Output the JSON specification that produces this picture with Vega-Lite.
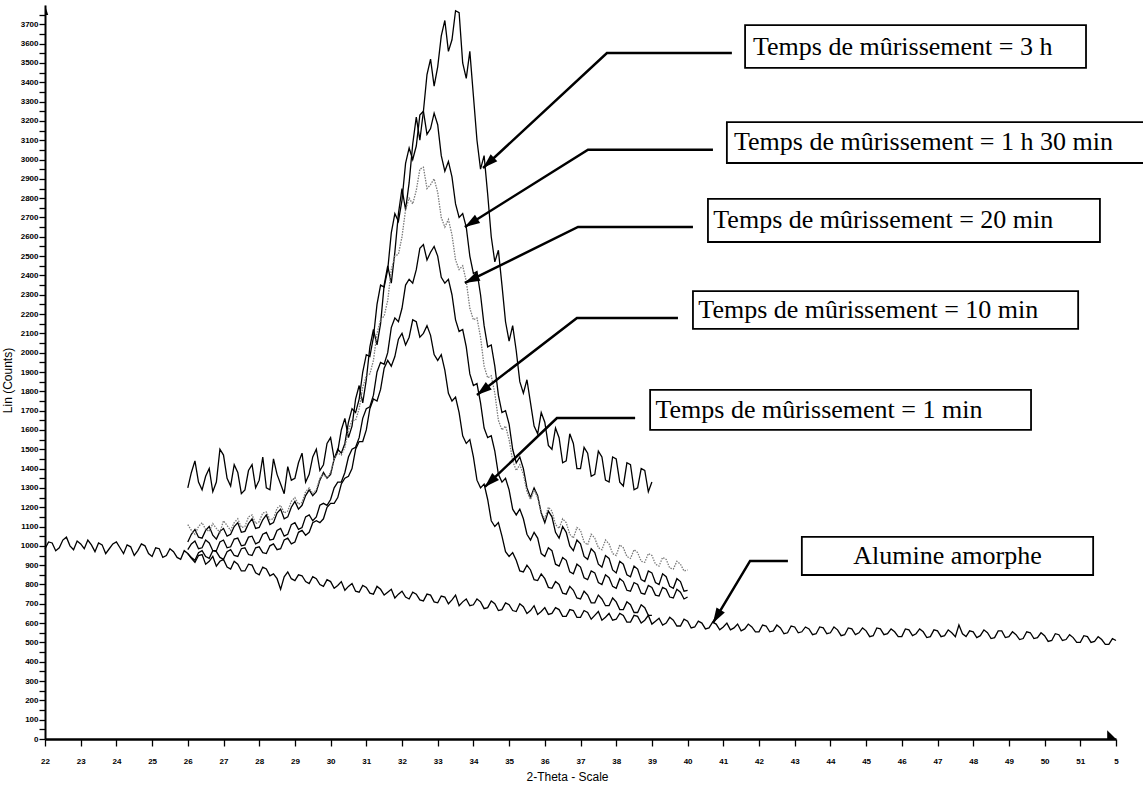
{
"$schema": "https://vega.github.io/schema/vega-lite/v6.json",
"width": 1071, "height": 734,
"autosize": {"type": "none"},
"padding": {"left": 45, "top": 5, "right": 27, "bottom": 52},
"background": "white",
"config": {"view": {"stroke": null}, "axis": {"grid": false}},
"datasets": {
"curves": [
{"s":"am","x":22.0,"y":985},{"s":"am","x":22.1,"y":1020},{"s":"am","x":22.2,"y":1015},{"s":"am","x":22.3,"y":975},{"s":"am","x":22.4,"y":990},{"s":"am","x":22.5,"y":1030},{"s":"am","x":22.6,"y":1045},{"s":"am","x":22.7,"y":1000},{"s":"am","x":22.8,"y":980},{"s":"am","x":22.9,"y":1025},
{"s":"am","x":23.0,"y":1010},{"s":"am","x":23.1,"y":985},{"s":"am","x":23.2,"y":1030},{"s":"am","x":23.3,"y":1005},{"s":"am","x":23.4,"y":970},{"s":"am","x":23.5,"y":1015},{"s":"am","x":23.6,"y":1005},{"s":"am","x":23.7,"y":960},{"s":"am","x":23.8,"y":985},{"s":"am","x":23.9,"y":1010},
{"s":"am","x":24.0,"y":1020},{"s":"am","x":24.1,"y":990},{"s":"am","x":24.2,"y":960},{"s":"am","x":24.3,"y":1005},{"s":"am","x":24.4,"y":995},{"s":"am","x":24.5,"y":950},{"s":"am","x":24.6,"y":975},{"s":"am","x":24.7,"y":1010},{"s":"am","x":24.8,"y":1000},{"s":"am","x":24.9,"y":960},
{"s":"am","x":25.0,"y":945},{"s":"am","x":25.1,"y":990},{"s":"am","x":25.2,"y":985},{"s":"am","x":25.3,"y":940},{"s":"am","x":25.4,"y":950},{"s":"am","x":25.5,"y":985},{"s":"am","x":25.6,"y":970},{"s":"am","x":25.7,"y":940},{"s":"am","x":25.8,"y":930},{"s":"am","x":25.9,"y":975},
{"s":"am","x":26.0,"y":960},{"s":"am","x":26.1,"y":935},{"s":"am","x":26.2,"y":915},{"s":"am","x":26.3,"y":950},{"s":"am","x":26.4,"y":955},{"s":"am","x":26.5,"y":905},{"s":"am","x":26.6,"y":920},{"s":"am","x":26.7,"y":945},{"s":"am","x":26.8,"y":895},{"s":"am","x":26.9,"y":920},
{"s":"am","x":27.0,"y":930},{"s":"am","x":27.1,"y":890},{"s":"am","x":27.2,"y":880},{"s":"am","x":27.3,"y":920},{"s":"am","x":27.4,"y":905},{"s":"am","x":27.5,"y":870},{"s":"am","x":27.6,"y":870},{"s":"am","x":27.7,"y":905},{"s":"am","x":27.8,"y":900},{"s":"am","x":27.9,"y":860},
{"s":"am","x":28.0,"y":850},{"s":"am","x":28.1,"y":890},{"s":"am","x":28.2,"y":880},{"s":"am","x":28.3,"y":845},{"s":"am","x":28.4,"y":855},{"s":"am","x":28.5,"y":830},{"s":"am","x":28.6,"y":775},{"s":"am","x":28.7,"y":840},{"s":"am","x":28.8,"y":865},{"s":"am","x":28.9,"y":830},
{"s":"am","x":29.0,"y":820},{"s":"am","x":29.1,"y":850},{"s":"am","x":29.2,"y":845},{"s":"am","x":29.3,"y":815},{"s":"am","x":29.4,"y":805},{"s":"am","x":29.5,"y":840},{"s":"am","x":29.6,"y":830},{"s":"am","x":29.7,"y":800},{"s":"am","x":29.8,"y":790},{"s":"am","x":29.9,"y":825},
{"s":"am","x":30.0,"y":815},{"s":"am","x":30.1,"y":780},{"s":"am","x":30.2,"y":795},{"s":"am","x":30.3,"y":815},{"s":"am","x":30.4,"y":770},{"s":"am","x":30.5,"y":790},{"s":"am","x":30.6,"y":805},{"s":"am","x":30.7,"y":765},{"s":"am","x":30.8,"y":760},{"s":"am","x":30.9,"y":795},
{"s":"am","x":31.0,"y":785},{"s":"am","x":31.1,"y":755},{"s":"am","x":31.2,"y":750},{"s":"am","x":31.3,"y":790},{"s":"am","x":31.4,"y":775},{"s":"am","x":31.5,"y":745},{"s":"am","x":31.6,"y":760},{"s":"am","x":31.7,"y":775},{"s":"am","x":31.8,"y":730},{"s":"am","x":31.9,"y":750},
{"s":"am","x":32.0,"y":765},{"s":"am","x":32.1,"y":735},{"s":"am","x":32.2,"y":725},{"s":"am","x":32.3,"y":760},{"s":"am","x":32.4,"y":750},{"s":"am","x":32.5,"y":720},{"s":"am","x":32.6,"y":715},{"s":"am","x":32.7,"y":750},{"s":"am","x":32.8,"y":745},{"s":"am","x":32.9,"y":710},
{"s":"am","x":33.0,"y":705},{"s":"am","x":33.1,"y":740},{"s":"am","x":33.2,"y":735},{"s":"am","x":33.3,"y":700},{"s":"am","x":33.4,"y":720},{"s":"am","x":33.5,"y":745},{"s":"am","x":33.6,"y":690},{"s":"am","x":33.7,"y":710},{"s":"am","x":33.8,"y":725},{"s":"am","x":33.9,"y":690},
{"s":"am","x":34.0,"y":695},{"s":"am","x":34.1,"y":725},{"s":"am","x":34.2,"y":710},{"s":"am","x":34.3,"y":675},{"s":"am","x":34.4,"y":680},{"s":"am","x":34.5,"y":715},{"s":"am","x":34.6,"y":700},{"s":"am","x":34.7,"y":665},{"s":"am","x":34.8,"y":670},{"s":"am","x":34.9,"y":705},
{"s":"am","x":35.0,"y":695},{"s":"am","x":35.1,"y":665},{"s":"am","x":35.2,"y":660},{"s":"am","x":35.3,"y":700},{"s":"am","x":35.4,"y":685},{"s":"am","x":35.5,"y":650},{"s":"am","x":35.6,"y":665},{"s":"am","x":35.7,"y":690},{"s":"am","x":35.8,"y":645},{"s":"am","x":35.9,"y":660},
{"s":"am","x":36.0,"y":680},{"s":"am","x":36.1,"y":645},{"s":"am","x":36.2,"y":650},{"s":"am","x":36.3,"y":680},{"s":"am","x":36.4,"y":670},{"s":"am","x":36.5,"y":635},{"s":"am","x":36.6,"y":635},{"s":"am","x":36.7,"y":670},{"s":"am","x":36.8,"y":665},{"s":"am","x":36.9,"y":630},
{"s":"am","x":37.0,"y":630},{"s":"am","x":37.1,"y":665},{"s":"am","x":37.2,"y":655},{"s":"am","x":37.3,"y":620},{"s":"am","x":37.4,"y":640},{"s":"am","x":37.5,"y":660},{"s":"am","x":37.6,"y":615},{"s":"am","x":37.7,"y":630},{"s":"am","x":37.8,"y":650},{"s":"am","x":37.9,"y":615},
{"s":"am","x":38.0,"y":620},{"s":"am","x":38.1,"y":650},{"s":"am","x":38.2,"y":640},{"s":"am","x":38.3,"y":605},{"s":"am","x":38.4,"y":605},{"s":"am","x":38.5,"y":640},{"s":"am","x":38.6,"y":635},{"s":"am","x":38.7,"y":600},{"s":"am","x":38.8,"y":615},{"s":"am","x":38.9,"y":640},
{"s":"am","x":39.0,"y":595},{"s":"am","x":39.1,"y":610},{"s":"am","x":39.2,"y":625},{"s":"am","x":39.3,"y":590},{"s":"am","x":39.4,"y":600},{"s":"am","x":39.5,"y":630},{"s":"am","x":39.6,"y":615},{"s":"am","x":39.7,"y":585},{"s":"am","x":39.8,"y":585},{"s":"am","x":39.9,"y":620},
{"s":"am","x":40.0,"y":610},{"s":"am","x":40.1,"y":575},{"s":"am","x":40.2,"y":580},{"s":"am","x":40.3,"y":610},{"s":"am","x":40.4,"y":600},{"s":"am","x":40.5,"y":570},{"s":"am","x":40.6,"y":575},{"s":"am","x":40.7,"y":605},{"s":"am","x":40.8,"y":595},{"s":"am","x":40.9,"y":565},
{"s":"am","x":41.0,"y":580},{"s":"am","x":41.1,"y":600},{"s":"am","x":41.2,"y":565},{"s":"am","x":41.3,"y":575},{"s":"am","x":41.4,"y":595},{"s":"am","x":41.5,"y":560},{"s":"am","x":41.6,"y":570},{"s":"am","x":41.7,"y":595},{"s":"am","x":41.8,"y":580},{"s":"am","x":41.9,"y":555},
{"s":"am","x":42.0,"y":555},{"s":"am","x":42.1,"y":590},{"s":"am","x":42.2,"y":585},{"s":"am","x":42.3,"y":555},{"s":"am","x":42.4,"y":560},{"s":"am","x":42.5,"y":590},{"s":"am","x":42.6,"y":575},{"s":"am","x":42.7,"y":545},{"s":"am","x":42.8,"y":550},{"s":"am","x":42.9,"y":585},
{"s":"am","x":43.0,"y":580},{"s":"am","x":43.1,"y":550},{"s":"am","x":43.2,"y":555},{"s":"am","x":43.3,"y":580},{"s":"am","x":43.4,"y":570},{"s":"am","x":43.5,"y":540},{"s":"am","x":43.6,"y":545},{"s":"am","x":43.7,"y":580},{"s":"am","x":43.8,"y":575},{"s":"am","x":43.9,"y":545},
{"s":"am","x":44.0,"y":550},{"s":"am","x":44.1,"y":580},{"s":"am","x":44.2,"y":565},{"s":"am","x":44.3,"y":535},{"s":"am","x":44.4,"y":540},{"s":"am","x":44.5,"y":575},{"s":"am","x":44.6,"y":570},{"s":"am","x":44.7,"y":540},{"s":"am","x":44.8,"y":550},{"s":"am","x":44.9,"y":575},
{"s":"am","x":45.0,"y":560},{"s":"am","x":45.1,"y":530},{"s":"am","x":45.2,"y":535},{"s":"am","x":45.3,"y":575},{"s":"am","x":45.4,"y":570},{"s":"am","x":45.5,"y":540},{"s":"am","x":45.6,"y":545},{"s":"am","x":45.7,"y":570},{"s":"am","x":45.8,"y":555},{"s":"am","x":45.9,"y":530},
{"s":"am","x":46.0,"y":530},{"s":"am","x":46.1,"y":570},{"s":"am","x":46.2,"y":565},{"s":"am","x":46.3,"y":535},{"s":"am","x":46.4,"y":545},{"s":"am","x":46.5,"y":570},{"s":"am","x":46.6,"y":555},{"s":"am","x":46.7,"y":525},{"s":"am","x":46.8,"y":530},{"s":"am","x":46.9,"y":565},
{"s":"am","x":47.0,"y":560},{"s":"am","x":47.1,"y":530},{"s":"am","x":47.2,"y":535},{"s":"am","x":47.3,"y":565},{"s":"am","x":47.4,"y":550},{"s":"am","x":47.5,"y":530},{"s":"am","x":47.6,"y":590},{"s":"am","x":47.7,"y":545},{"s":"am","x":47.8,"y":530},{"s":"am","x":47.9,"y":560},
{"s":"am","x":48.0,"y":555},{"s":"am","x":48.1,"y":525},{"s":"am","x":48.2,"y":535},{"s":"am","x":48.3,"y":565},{"s":"am","x":48.4,"y":550},{"s":"am","x":48.5,"y":520},{"s":"am","x":48.6,"y":525},{"s":"am","x":48.7,"y":560},{"s":"am","x":48.8,"y":560},{"s":"am","x":48.9,"y":525},
{"s":"am","x":49.0,"y":530},{"s":"am","x":49.1,"y":555},{"s":"am","x":49.2,"y":540},{"s":"am","x":49.3,"y":515},{"s":"am","x":49.4,"y":520},{"s":"am","x":49.5,"y":555},{"s":"am","x":49.6,"y":550},{"s":"am","x":49.7,"y":520},{"s":"am","x":49.8,"y":525},{"s":"am","x":49.9,"y":550},
{"s":"am","x":50.0,"y":535},{"s":"am","x":50.1,"y":505},{"s":"am","x":50.2,"y":510},{"s":"am","x":50.3,"y":545},{"s":"am","x":50.4,"y":540},{"s":"am","x":50.5,"y":510},{"s":"am","x":50.6,"y":515},{"s":"am","x":50.7,"y":540},{"s":"am","x":50.8,"y":525},{"s":"am","x":50.9,"y":500},
{"s":"am","x":51.0,"y":500},{"s":"am","x":51.1,"y":535},{"s":"am","x":51.2,"y":530},{"s":"am","x":51.3,"y":500},{"s":"am","x":51.4,"y":505},{"s":"am","x":51.5,"y":530},{"s":"am","x":51.6,"y":515},{"s":"am","x":51.7,"y":490},{"s":"am","x":51.8,"y":490},{"s":"am","x":51.9,"y":520},{"s":"am","x":52.0,"y":510},

{"s":"h3","x":26.0,"y":1300},{"s":"h3","x":26.1,"y":1380},{"s":"h3","x":26.2,"y":1440},{"s":"h3","x":26.3,"y":1330},{"s":"h3","x":26.4,"y":1290},{"s":"h3","x":26.5,"y":1360},{"s":"h3","x":26.6,"y":1400},{"s":"h3","x":26.7,"y":1280},{"s":"h3","x":26.8,"y":1330},{"s":"h3","x":26.9,"y":1500},
{"s":"h3","x":27.0,"y":1470},{"s":"h3","x":27.1,"y":1350},{"s":"h3","x":27.2,"y":1310},{"s":"h3","x":27.3,"y":1420},{"s":"h3","x":27.4,"y":1380},{"s":"h3","x":27.5,"y":1270},{"s":"h3","x":27.6,"y":1290},{"s":"h3","x":27.7,"y":1390},{"s":"h3","x":27.8,"y":1420},{"s":"h3","x":27.9,"y":1300},
{"s":"h3","x":28.0,"y":1340},{"s":"h3","x":28.1,"y":1460},{"s":"h3","x":28.2,"y":1300},{"s":"h3","x":28.3,"y":1290},{"s":"h3","x":28.4,"y":1450},{"s":"h3","x":28.5,"y":1370},{"s":"h3","x":28.6,"y":1320},{"s":"h3","x":28.7,"y":1270},{"s":"h3","x":28.8,"y":1410},{"s":"h3","x":28.9,"y":1340},
{"s":"h3","x":29.0,"y":1350},{"s":"h3","x":29.1,"y":1430},{"s":"h3","x":29.2,"y":1480},{"s":"h3","x":29.3,"y":1330},{"s":"h3","x":29.4,"y":1370},{"s":"h3","x":29.5,"y":1460},{"s":"h3","x":29.6,"y":1500},{"s":"h3","x":29.7,"y":1390},{"s":"h3","x":29.8,"y":1420},{"s":"h3","x":29.9,"y":1530},
{"s":"h3","x":30.0,"y":1560},{"s":"h3","x":30.1,"y":1450},{"s":"h3","x":30.2,"y":1490},{"s":"h3","x":30.3,"y":1600},{"s":"h3","x":30.4,"y":1660},{"s":"h3","x":30.5,"y":1560},{"s":"h3","x":30.6,"y":1620},{"s":"h3","x":30.7,"y":1760},{"s":"h3","x":30.8,"y":1830},{"s":"h3","x":30.9,"y":1740},
{"s":"h3","x":31.0,"y":1860},{"s":"h3","x":31.1,"y":2030},{"s":"h3","x":31.2,"y":2120},{"s":"h3","x":31.3,"y":2040},{"s":"h3","x":31.4,"y":2150},{"s":"h3","x":31.5,"y":2350},{"s":"h3","x":31.6,"y":2450},{"s":"h3","x":31.7,"y":2360},{"s":"h3","x":31.8,"y":2520},{"s":"h3","x":31.9,"y":2720},
{"s":"h3","x":32.0,"y":2850},{"s":"h3","x":32.1,"y":2740},{"s":"h3","x":32.2,"y":2880},{"s":"h3","x":32.3,"y":3080},{"s":"h3","x":32.4,"y":3220},{"s":"h3","x":32.5,"y":3100},{"s":"h3","x":32.6,"y":3250},{"s":"h3","x":32.7,"y":3440},{"s":"h3","x":32.8,"y":3520},{"s":"h3","x":32.9,"y":3380},
{"s":"h3","x":33.0,"y":3480},{"s":"h3","x":33.1,"y":3640},{"s":"h3","x":33.2,"y":3720},{"s":"h3","x":33.3,"y":3560},{"s":"h3","x":33.4,"y":3620},{"s":"h3","x":33.5,"y":3770},{"s":"h3","x":33.6,"y":3760},{"s":"h3","x":33.7,"y":3500},{"s":"h3","x":33.8,"y":3420},{"s":"h3","x":33.9,"y":3560},
{"s":"h3","x":34.0,"y":3330},{"s":"h3","x":34.1,"y":3100},{"s":"h3","x":34.2,"y":2950},{"s":"h3","x":34.3,"y":3020},{"s":"h3","x":34.4,"y":2820},{"s":"h3","x":34.5,"y":2600},{"s":"h3","x":34.6,"y":2470},{"s":"h3","x":34.7,"y":2530},{"s":"h3","x":34.8,"y":2350},{"s":"h3","x":34.9,"y":2160},
{"s":"h3","x":35.0,"y":2060},{"s":"h3","x":35.1,"y":2140},{"s":"h3","x":35.2,"y":2010},{"s":"h3","x":35.3,"y":1850},{"s":"h3","x":35.4,"y":1790},{"s":"h3","x":35.5,"y":1860},{"s":"h3","x":35.6,"y":1740},{"s":"h3","x":35.7,"y":1620},{"s":"h3","x":35.8,"y":1580},{"s":"h3","x":35.9,"y":1690},
{"s":"h3","x":36.0,"y":1640},{"s":"h3","x":36.1,"y":1520},{"s":"h3","x":36.2,"y":1500},{"s":"h3","x":36.3,"y":1610},{"s":"h3","x":36.4,"y":1560},{"s":"h3","x":36.5,"y":1430},{"s":"h3","x":36.6,"y":1440},{"s":"h3","x":36.7,"y":1580},{"s":"h3","x":36.8,"y":1530},{"s":"h3","x":36.9,"y":1400},
{"s":"h3","x":37.0,"y":1400},{"s":"h3","x":37.1,"y":1510},{"s":"h3","x":37.2,"y":1480},{"s":"h3","x":37.3,"y":1360},{"s":"h3","x":37.4,"y":1370},{"s":"h3","x":37.5,"y":1490},{"s":"h3","x":37.6,"y":1460},{"s":"h3","x":37.7,"y":1340},{"s":"h3","x":37.8,"y":1330},{"s":"h3","x":37.9,"y":1460},
{"s":"h3","x":38.0,"y":1450},{"s":"h3","x":38.1,"y":1330},{"s":"h3","x":38.2,"y":1310},{"s":"h3","x":38.3,"y":1430},{"s":"h3","x":38.4,"y":1420},{"s":"h3","x":38.5,"y":1290},{"s":"h3","x":38.6,"y":1300},{"s":"h3","x":38.7,"y":1400},{"s":"h3","x":38.8,"y":1390},{"s":"h3","x":38.9,"y":1280},{"s":"h3","x":39.0,"y":1330},

{"s":"h1","x":26.0,"y":1020},{"s":"h1","x":26.1,"y":1060},{"s":"h1","x":26.2,"y":1085},{"s":"h1","x":26.3,"y":1045},{"s":"h1","x":26.4,"y":1040},{"s":"h1","x":26.5,"y":1080},{"s":"h1","x":26.6,"y":1100},{"s":"h1","x":26.7,"y":1055},{"s":"h1","x":26.8,"y":1035},{"s":"h1","x":26.9,"y":1075},
{"s":"h1","x":27.0,"y":1090},{"s":"h1","x":27.1,"y":1050},{"s":"h1","x":27.2,"y":1060},{"s":"h1","x":27.3,"y":1100},{"s":"h1","x":27.4,"y":1120},{"s":"h1","x":27.5,"y":1070},{"s":"h1","x":27.6,"y":1075},{"s":"h1","x":27.7,"y":1115},{"s":"h1","x":27.8,"y":1140},{"s":"h1","x":27.9,"y":1090},
{"s":"h1","x":28.0,"y":1095},{"s":"h1","x":28.1,"y":1135},{"s":"h1","x":28.2,"y":1160},{"s":"h1","x":28.3,"y":1110},{"s":"h1","x":28.4,"y":1120},{"s":"h1","x":28.5,"y":1170},{"s":"h1","x":28.6,"y":1190},{"s":"h1","x":28.7,"y":1140},{"s":"h1","x":28.8,"y":1150},{"s":"h1","x":28.9,"y":1200},
{"s":"h1","x":29.0,"y":1230},{"s":"h1","x":29.1,"y":1190},{"s":"h1","x":29.2,"y":1210},{"s":"h1","x":29.3,"y":1260},{"s":"h1","x":29.4,"y":1290},{"s":"h1","x":29.5,"y":1260},{"s":"h1","x":29.6,"y":1280},{"s":"h1","x":29.7,"y":1340},{"s":"h1","x":29.8,"y":1380},{"s":"h1","x":29.9,"y":1350},
{"s":"h1","x":30.0,"y":1370},{"s":"h1","x":30.1,"y":1450},{"s":"h1","x":30.2,"y":1500},{"s":"h1","x":30.3,"y":1480},{"s":"h1","x":30.4,"y":1530},{"s":"h1","x":30.5,"y":1640},{"s":"h1","x":30.6,"y":1710},{"s":"h1","x":30.7,"y":1690},{"s":"h1","x":30.8,"y":1760},{"s":"h1","x":30.9,"y":1900},
{"s":"h1","x":31.0,"y":1990},{"s":"h1","x":31.1,"y":1980},{"s":"h1","x":31.2,"y":2080},{"s":"h1","x":31.3,"y":2250},{"s":"h1","x":31.4,"y":2350},{"s":"h1","x":31.5,"y":2340},{"s":"h1","x":31.6,"y":2430},{"s":"h1","x":31.7,"y":2620},{"s":"h1","x":31.8,"y":2720},{"s":"h1","x":31.9,"y":2680},
{"s":"h1","x":32.0,"y":2790},{"s":"h1","x":32.1,"y":2980},{"s":"h1","x":32.2,"y":3060},{"s":"h1","x":32.3,"y":3000},{"s":"h1","x":32.4,"y":3070},{"s":"h1","x":32.5,"y":3230},{"s":"h1","x":32.6,"y":3250},{"s":"h1","x":32.7,"y":3130},{"s":"h1","x":32.8,"y":3160},{"s":"h1","x":32.9,"y":3240},
{"s":"h1","x":33.0,"y":3180},{"s":"h1","x":33.1,"y":3020},{"s":"h1","x":33.2,"y":2940},{"s":"h1","x":33.3,"y":2990},{"s":"h1","x":33.4,"y":2910},{"s":"h1","x":33.5,"y":2770},{"s":"h1","x":33.6,"y":2700},{"s":"h1","x":33.7,"y":2720},{"s":"h1","x":33.8,"y":2650},{"s":"h1","x":33.9,"y":2500},
{"s":"h1","x":34.0,"y":2410},{"s":"h1","x":34.1,"y":2420},{"s":"h1","x":34.2,"y":2300},{"s":"h1","x":34.3,"y":2140},{"s":"h1","x":34.4,"y":2030},{"s":"h1","x":34.5,"y":2040},{"s":"h1","x":34.6,"y":1930},{"s":"h1","x":34.7,"y":1780},{"s":"h1","x":34.8,"y":1690},{"s":"h1","x":34.9,"y":1700},
{"s":"h1","x":35.0,"y":1630},{"s":"h1","x":35.1,"y":1500},{"s":"h1","x":35.2,"y":1430},{"s":"h1","x":35.3,"y":1460},{"s":"h1","x":35.4,"y":1400},{"s":"h1","x":35.5,"y":1300},{"s":"h1","x":35.6,"y":1250},{"s":"h1","x":35.7,"y":1300},{"s":"h1","x":35.8,"y":1260},{"s":"h1","x":35.9,"y":1170},
{"s":"h1","x":36.0,"y":1120},{"s":"h1","x":36.1,"y":1180},{"s":"h1","x":36.2,"y":1150},{"s":"h1","x":36.3,"y":1070},{"s":"h1","x":36.4,"y":1040},{"s":"h1","x":36.5,"y":1100},{"s":"h1","x":36.6,"y":1070},{"s":"h1","x":36.7,"y":1000},{"s":"h1","x":36.8,"y":975},{"s":"h1","x":36.9,"y":1030},
{"s":"h1","x":37.0,"y":1010},{"s":"h1","x":37.1,"y":945},{"s":"h1","x":37.2,"y":930},{"s":"h1","x":37.3,"y":985},{"s":"h1","x":37.4,"y":965},{"s":"h1","x":37.5,"y":905},{"s":"h1","x":37.6,"y":890},{"s":"h1","x":37.7,"y":950},{"s":"h1","x":37.8,"y":935},{"s":"h1","x":37.9,"y":875},
{"s":"h1","x":38.0,"y":860},{"s":"h1","x":38.1,"y":920},{"s":"h1","x":38.2,"y":905},{"s":"h1","x":38.3,"y":850},{"s":"h1","x":38.4,"y":840},{"s":"h1","x":38.5,"y":895},{"s":"h1","x":38.6,"y":880},{"s":"h1","x":38.7,"y":825},{"s":"h1","x":38.8,"y":815},{"s":"h1","x":38.9,"y":870},
{"s":"h1","x":39.0,"y":860},{"s":"h1","x":39.1,"y":810},{"s":"h1","x":39.2,"y":800},{"s":"h1","x":39.3,"y":855},{"s":"h1","x":39.4,"y":840},{"s":"h1","x":39.5,"y":790},{"s":"h1","x":39.6,"y":780},{"s":"h1","x":39.7,"y":830},{"s":"h1","x":39.8,"y":815},{"s":"h1","x":39.9,"y":765},{"s":"h1","x":40.0,"y":770},

{"s":"m20","x":26.0,"y":1110},{"s":"m20","x":26.1,"y":1080},{"s":"m20","x":26.2,"y":1060},{"s":"m20","x":26.3,"y":1100},{"s":"m20","x":26.4,"y":1120},{"s":"m20","x":26.5,"y":1085},{"s":"m20","x":26.6,"y":1075},{"s":"m20","x":26.7,"y":1115},{"s":"m20","x":26.8,"y":1090},{"s":"m20","x":26.9,"y":1070},
{"s":"m20","x":27.0,"y":1130},{"s":"m20","x":27.1,"y":1105},{"s":"m20","x":27.2,"y":1080},{"s":"m20","x":27.3,"y":1120},{"s":"m20","x":27.4,"y":1140},{"s":"m20","x":27.5,"y":1095},{"s":"m20","x":27.6,"y":1100},{"s":"m20","x":27.7,"y":1150},{"s":"m20","x":27.8,"y":1160},{"s":"m20","x":27.9,"y":1115},
{"s":"m20","x":28.0,"y":1125},{"s":"m20","x":28.1,"y":1170},{"s":"m20","x":28.2,"y":1175},{"s":"m20","x":28.3,"y":1135},{"s":"m20","x":28.4,"y":1140},{"s":"m20","x":28.5,"y":1195},{"s":"m20","x":28.6,"y":1210},{"s":"m20","x":28.7,"y":1170},{"s":"m20","x":28.8,"y":1180},{"s":"m20","x":28.9,"y":1230},
{"s":"m20","x":29.0,"y":1250},{"s":"m20","x":29.1,"y":1215},{"s":"m20","x":29.2,"y":1225},{"s":"m20","x":29.3,"y":1280},{"s":"m20","x":29.4,"y":1300},{"s":"m20","x":29.5,"y":1270},{"s":"m20","x":29.6,"y":1290},{"s":"m20","x":29.7,"y":1350},{"s":"m20","x":29.8,"y":1370},{"s":"m20","x":29.9,"y":1350},
{"s":"m20","x":30.0,"y":1380},{"s":"m20","x":30.1,"y":1450},{"s":"m20","x":30.2,"y":1480},{"s":"m20","x":30.3,"y":1470},{"s":"m20","x":30.4,"y":1510},{"s":"m20","x":30.5,"y":1600},{"s":"m20","x":30.6,"y":1650},{"s":"m20","x":30.7,"y":1650},{"s":"m20","x":30.8,"y":1710},{"s":"m20","x":30.9,"y":1820},
{"s":"m20","x":31.0,"y":1880},{"s":"m20","x":31.1,"y":1890},{"s":"m20","x":31.2,"y":1960},{"s":"m20","x":31.3,"y":2100},{"s":"m20","x":31.4,"y":2170},{"s":"m20","x":31.5,"y":2190},{"s":"m20","x":31.6,"y":2270},{"s":"m20","x":31.7,"y":2430},{"s":"m20","x":31.8,"y":2500},{"s":"m20","x":31.9,"y":2510},
{"s":"m20","x":32.0,"y":2600},{"s":"m20","x":32.1,"y":2740},{"s":"m20","x":32.2,"y":2800},{"s":"m20","x":32.3,"y":2770},{"s":"m20","x":32.4,"y":2840},{"s":"m20","x":32.5,"y":2950},{"s":"m20","x":32.6,"y":2960},{"s":"m20","x":32.7,"y":2850},{"s":"m20","x":32.8,"y":2870},{"s":"m20","x":32.9,"y":2900},
{"s":"m20","x":33.0,"y":2830},{"s":"m20","x":33.1,"y":2700},{"s":"m20","x":33.2,"y":2650},{"s":"m20","x":33.3,"y":2690},{"s":"m20","x":33.4,"y":2610},{"s":"m20","x":33.5,"y":2480},{"s":"m20","x":33.6,"y":2430},{"s":"m20","x":33.7,"y":2450},{"s":"m20","x":33.8,"y":2370},{"s":"m20","x":33.9,"y":2230},
{"s":"m20","x":34.0,"y":2170},{"s":"m20","x":34.1,"y":2180},{"s":"m20","x":34.2,"y":2080},{"s":"m20","x":34.3,"y":1930},{"s":"m20","x":34.4,"y":1870},{"s":"m20","x":34.5,"y":1880},{"s":"m20","x":34.6,"y":1790},{"s":"m20","x":34.7,"y":1650},{"s":"m20","x":34.8,"y":1600},{"s":"m20","x":34.9,"y":1620},
{"s":"m20","x":35.0,"y":1550},{"s":"m20","x":35.1,"y":1440},{"s":"m20","x":35.2,"y":1390},{"s":"m20","x":35.3,"y":1420},{"s":"m20","x":35.4,"y":1370},{"s":"m20","x":35.5,"y":1280},{"s":"m20","x":35.6,"y":1240},{"s":"m20","x":35.7,"y":1290},{"s":"m20","x":35.8,"y":1250},{"s":"m20","x":35.9,"y":1170},
{"s":"m20","x":36.0,"y":1140},{"s":"m20","x":36.1,"y":1200},{"s":"m20","x":36.2,"y":1180},{"s":"m20","x":36.3,"y":1110},{"s":"m20","x":36.4,"y":1090},{"s":"m20","x":36.5,"y":1140},{"s":"m20","x":36.6,"y":1120},{"s":"m20","x":36.7,"y":1060},{"s":"m20","x":36.8,"y":1040},{"s":"m20","x":36.9,"y":1095},
{"s":"m20","x":37.0,"y":1080},{"s":"m20","x":37.1,"y":1020},{"s":"m20","x":37.2,"y":1005},{"s":"m20","x":37.3,"y":1060},{"s":"m20","x":37.4,"y":1040},{"s":"m20","x":37.5,"y":990},{"s":"m20","x":37.6,"y":980},{"s":"m20","x":37.7,"y":1030},{"s":"m20","x":37.8,"y":1010},{"s":"m20","x":37.9,"y":960},
{"s":"m20","x":38.0,"y":950},{"s":"m20","x":38.1,"y":1005},{"s":"m20","x":38.2,"y":990},{"s":"m20","x":38.3,"y":945},{"s":"m20","x":38.4,"y":935},{"s":"m20","x":38.5,"y":980},{"s":"m20","x":38.6,"y":965},{"s":"m20","x":38.7,"y":920},{"s":"m20","x":38.8,"y":915},{"s":"m20","x":38.9,"y":960},
{"s":"m20","x":39.0,"y":950},{"s":"m20","x":39.1,"y":905},{"s":"m20","x":39.2,"y":895},{"s":"m20","x":39.3,"y":940},{"s":"m20","x":39.4,"y":930},{"s":"m20","x":39.5,"y":885},{"s":"m20","x":39.6,"y":880},{"s":"m20","x":39.7,"y":920},{"s":"m20","x":39.8,"y":905},{"s":"m20","x":39.9,"y":870},{"s":"m20","x":40.0,"y":875},

{"s":"m10","x":26.0,"y":980},{"s":"m10","x":26.1,"y":1010},{"s":"m10","x":26.2,"y":1025},{"s":"m10","x":26.3,"y":985},{"s":"m10","x":26.4,"y":990},{"s":"m10","x":26.5,"y":1030},{"s":"m10","x":26.6,"y":1015},{"s":"m10","x":26.7,"y":975},{"s":"m10","x":26.8,"y":975},{"s":"m10","x":26.9,"y":1020},
{"s":"m10","x":27.0,"y":1030},{"s":"m10","x":27.1,"y":990},{"s":"m10","x":27.2,"y":995},{"s":"m10","x":27.3,"y":1035},{"s":"m10","x":27.4,"y":1040},{"s":"m10","x":27.5,"y":1000},{"s":"m10","x":27.6,"y":1005},{"s":"m10","x":27.7,"y":1045},{"s":"m10","x":27.8,"y":1050},{"s":"m10","x":27.9,"y":1010},
{"s":"m10","x":28.0,"y":1020},{"s":"m10","x":28.1,"y":1060},{"s":"m10","x":28.2,"y":1070},{"s":"m10","x":28.3,"y":1030},{"s":"m10","x":28.4,"y":1035},{"s":"m10","x":28.5,"y":1080},{"s":"m10","x":28.6,"y":1090},{"s":"m10","x":28.7,"y":1050},{"s":"m10","x":28.8,"y":1060},{"s":"m10","x":28.9,"y":1110},
{"s":"m10","x":29.0,"y":1120},{"s":"m10","x":29.1,"y":1085},{"s":"m10","x":29.2,"y":1095},{"s":"m10","x":29.3,"y":1150},{"s":"m10","x":29.4,"y":1160},{"s":"m10","x":29.5,"y":1130},{"s":"m10","x":29.6,"y":1150},{"s":"m10","x":29.7,"y":1210},{"s":"m10","x":29.8,"y":1220},{"s":"m10","x":29.9,"y":1210},
{"s":"m10","x":30.0,"y":1240},{"s":"m10","x":30.1,"y":1300},{"s":"m10","x":30.2,"y":1330},{"s":"m10","x":30.3,"y":1330},{"s":"m10","x":30.4,"y":1380},{"s":"m10","x":30.5,"y":1460},{"s":"m10","x":30.6,"y":1500},{"s":"m10","x":30.7,"y":1510},{"s":"m10","x":30.8,"y":1560},{"s":"m10","x":30.9,"y":1660},
{"s":"m10","x":31.0,"y":1710},{"s":"m10","x":31.1,"y":1720},{"s":"m10","x":31.2,"y":1780},{"s":"m10","x":31.3,"y":1900},{"s":"m10","x":31.4,"y":1950},{"s":"m10","x":31.5,"y":1940},{"s":"m10","x":31.6,"y":2000},{"s":"m10","x":31.7,"y":2130},{"s":"m10","x":31.8,"y":2180},{"s":"m10","x":31.9,"y":2160},
{"s":"m10","x":32.0,"y":2230},{"s":"m10","x":32.1,"y":2350},{"s":"m10","x":32.2,"y":2380},{"s":"m10","x":32.3,"y":2360},{"s":"m10","x":32.4,"y":2430},{"s":"m10","x":32.5,"y":2540},{"s":"m10","x":32.6,"y":2560},{"s":"m10","x":32.7,"y":2480},{"s":"m10","x":32.8,"y":2520},{"s":"m10","x":32.9,"y":2550},
{"s":"m10","x":33.0,"y":2500},{"s":"m10","x":33.1,"y":2390},{"s":"m10","x":33.2,"y":2360},{"s":"m10","x":33.3,"y":2380},{"s":"m10","x":33.4,"y":2300},{"s":"m10","x":33.5,"y":2170},{"s":"m10","x":33.6,"y":2110},{"s":"m10","x":33.7,"y":2120},{"s":"m10","x":33.8,"y":2030},{"s":"m10","x":33.9,"y":1890},
{"s":"m10","x":34.0,"y":1830},{"s":"m10","x":34.1,"y":1840},{"s":"m10","x":34.2,"y":1740},{"s":"m10","x":34.3,"y":1610},{"s":"m10","x":34.4,"y":1560},{"s":"m10","x":34.5,"y":1570},{"s":"m10","x":34.6,"y":1490},{"s":"m10","x":34.7,"y":1370},{"s":"m10","x":34.8,"y":1330},{"s":"m10","x":34.9,"y":1350},
{"s":"m10","x":35.0,"y":1290},{"s":"m10","x":35.1,"y":1190},{"s":"m10","x":35.2,"y":1160},{"s":"m10","x":35.3,"y":1190},{"s":"m10","x":35.4,"y":1140},{"s":"m10","x":35.5,"y":1060},{"s":"m10","x":35.6,"y":1030},{"s":"m10","x":35.7,"y":1070},{"s":"m10","x":35.8,"y":1040},{"s":"m10","x":35.9,"y":960},
{"s":"m10","x":36.0,"y":945},{"s":"m10","x":36.1,"y":990},{"s":"m10","x":36.2,"y":975},{"s":"m10","x":36.3,"y":905},{"s":"m10","x":36.4,"y":895},{"s":"m10","x":36.5,"y":940},{"s":"m10","x":36.6,"y":925},{"s":"m10","x":36.7,"y":865},{"s":"m10","x":36.8,"y":855},{"s":"m10","x":36.9,"y":905},
{"s":"m10","x":37.0,"y":890},{"s":"m10","x":37.1,"y":835},{"s":"m10","x":37.2,"y":825},{"s":"m10","x":37.3,"y":870},{"s":"m10","x":37.4,"y":860},{"s":"m10","x":37.5,"y":810},{"s":"m10","x":37.6,"y":800},{"s":"m10","x":37.7,"y":850},{"s":"m10","x":37.8,"y":835},{"s":"m10","x":37.9,"y":790},
{"s":"m10","x":38.0,"y":780},{"s":"m10","x":38.1,"y":830},{"s":"m10","x":38.2,"y":815},{"s":"m10","x":38.3,"y":770},{"s":"m10","x":38.4,"y":765},{"s":"m10","x":38.5,"y":810},{"s":"m10","x":38.6,"y":800},{"s":"m10","x":38.7,"y":755},{"s":"m10","x":38.8,"y":750},{"s":"m10","x":38.9,"y":795},
{"s":"m10","x":39.0,"y":785},{"s":"m10","x":39.1,"y":745},{"s":"m10","x":39.2,"y":740},{"s":"m10","x":39.3,"y":785},{"s":"m10","x":39.4,"y":775},{"s":"m10","x":39.5,"y":735},{"s":"m10","x":39.6,"y":730},{"s":"m10","x":39.7,"y":775},{"s":"m10","x":39.8,"y":760},{"s":"m10","x":39.9,"y":725},{"s":"m10","x":40.0,"y":735},

{"s":"m1","x":26.0,"y":960},{"s":"m1","x":26.1,"y":940},{"s":"m1","x":26.2,"y":925},{"s":"m1","x":26.3,"y":965},{"s":"m1","x":26.4,"y":975},{"s":"m1","x":26.5,"y":945},{"s":"m1","x":26.6,"y":935},{"s":"m1","x":26.7,"y":975},{"s":"m1","x":26.8,"y":970},{"s":"m1","x":26.9,"y":940},
{"s":"m1","x":27.0,"y":930},{"s":"m1","x":27.1,"y":970},{"s":"m1","x":27.2,"y":980},{"s":"m1","x":27.3,"y":950},{"s":"m1","x":27.4,"y":945},{"s":"m1","x":27.5,"y":985},{"s":"m1","x":27.6,"y":990},{"s":"m1","x":27.7,"y":955},{"s":"m1","x":27.8,"y":950},{"s":"m1","x":27.9,"y":990},
{"s":"m1","x":28.0,"y":995},{"s":"m1","x":28.1,"y":965},{"s":"m1","x":28.2,"y":960},{"s":"m1","x":28.3,"y":1000},{"s":"m1","x":28.4,"y":1010},{"s":"m1","x":28.5,"y":980},{"s":"m1","x":28.6,"y":985},{"s":"m1","x":28.7,"y":1030},{"s":"m1","x":28.8,"y":1040},{"s":"m1","x":28.9,"y":1010},
{"s":"m1","x":29.0,"y":1020},{"s":"m1","x":29.1,"y":1070},{"s":"m1","x":29.2,"y":1080},{"s":"m1","x":29.3,"y":1055},{"s":"m1","x":29.4,"y":1070},{"s":"m1","x":29.5,"y":1120},{"s":"m1","x":29.6,"y":1130},{"s":"m1","x":29.7,"y":1120},{"s":"m1","x":29.8,"y":1140},{"s":"m1","x":29.9,"y":1200},
{"s":"m1","x":30.0,"y":1220},{"s":"m1","x":30.1,"y":1220},{"s":"m1","x":30.2,"y":1250},{"s":"m1","x":30.3,"y":1320},{"s":"m1","x":30.4,"y":1350},{"s":"m1","x":30.5,"y":1360},{"s":"m1","x":30.6,"y":1400},{"s":"m1","x":30.7,"y":1500},{"s":"m1","x":30.8,"y":1540},{"s":"m1","x":30.9,"y":1540},
{"s":"m1","x":31.0,"y":1600},{"s":"m1","x":31.1,"y":1710},{"s":"m1","x":31.2,"y":1760},{"s":"m1","x":31.3,"y":1750},{"s":"m1","x":31.4,"y":1810},{"s":"m1","x":31.5,"y":1920},{"s":"m1","x":31.6,"y":1960},{"s":"m1","x":31.7,"y":1930},{"s":"m1","x":31.8,"y":1980},{"s":"m1","x":31.9,"y":2070},
{"s":"m1","x":32.0,"y":2100},{"s":"m1","x":32.1,"y":2040},{"s":"m1","x":32.2,"y":2080},{"s":"m1","x":32.3,"y":2170},{"s":"m1","x":32.4,"y":2160},{"s":"m1","x":32.5,"y":2080},{"s":"m1","x":32.6,"y":2100},{"s":"m1","x":32.7,"y":2140},{"s":"m1","x":32.8,"y":2090},{"s":"m1","x":32.9,"y":1990},
{"s":"m1","x":33.0,"y":1960},{"s":"m1","x":33.1,"y":1990},{"s":"m1","x":33.2,"y":1910},{"s":"m1","x":33.3,"y":1790},{"s":"m1","x":33.4,"y":1750},{"s":"m1","x":33.5,"y":1770},{"s":"m1","x":33.6,"y":1690},{"s":"m1","x":33.7,"y":1570},{"s":"m1","x":33.8,"y":1530},{"s":"m1","x":33.9,"y":1550},
{"s":"m1","x":34.0,"y":1460},{"s":"m1","x":34.1,"y":1340},{"s":"m1","x":34.2,"y":1300},{"s":"m1","x":34.3,"y":1320},{"s":"m1","x":34.4,"y":1240},{"s":"m1","x":34.5,"y":1130},{"s":"m1","x":34.6,"y":1100},{"s":"m1","x":34.7,"y":1120},{"s":"m1","x":34.8,"y":1050},{"s":"m1","x":34.9,"y":970},
{"s":"m1","x":35.0,"y":945},{"s":"m1","x":35.1,"y":965},{"s":"m1","x":35.2,"y":925},{"s":"m1","x":35.3,"y":870},{"s":"m1","x":35.4,"y":865},{"s":"m1","x":35.5,"y":900},{"s":"m1","x":35.6,"y":875},{"s":"m1","x":35.7,"y":825},{"s":"m1","x":35.8,"y":820},{"s":"m1","x":35.9,"y":855},
{"s":"m1","x":36.0,"y":830},{"s":"m1","x":36.1,"y":785},{"s":"m1","x":36.2,"y":780},{"s":"m1","x":36.3,"y":815},{"s":"m1","x":36.4,"y":800},{"s":"m1","x":36.5,"y":755},{"s":"m1","x":36.6,"y":750},{"s":"m1","x":36.7,"y":790},{"s":"m1","x":36.8,"y":770},{"s":"m1","x":36.9,"y":730},
{"s":"m1","x":37.0,"y":725},{"s":"m1","x":37.1,"y":765},{"s":"m1","x":37.2,"y":745},{"s":"m1","x":37.3,"y":705},{"s":"m1","x":37.4,"y":705},{"s":"m1","x":37.5,"y":745},{"s":"m1","x":37.6,"y":725},{"s":"m1","x":37.7,"y":690},{"s":"m1","x":37.8,"y":690},{"s":"m1","x":37.9,"y":730},
{"s":"m1","x":38.0,"y":710},{"s":"m1","x":38.1,"y":670},{"s":"m1","x":38.2,"y":670},{"s":"m1","x":38.3,"y":710},{"s":"m1","x":38.4,"y":695},{"s":"m1","x":38.5,"y":655},{"s":"m1","x":38.6,"y":655},{"s":"m1","x":38.7,"y":695},{"s":"m1","x":38.8,"y":680},{"s":"m1","x":38.9,"y":640},{"s":"m1","x":39.0,"y":640}
],
"arrows": [
{"id":"a1","o":0,"x":41.24,"y":3551},{"id":"a1","o":1,"x":37.74,"y":3551},{"id":"a1","o":2,"x":34.27,"y":2956},
{"id":"a2","o":0,"x":40.71,"y":3051},{"id":"a2","o":1,"x":37.21,"y":3051},{"id":"a2","o":2,"x":33.76,"y":2651},
{"id":"a3","o":0,"x":40.15,"y":2651},{"id":"a3","o":1,"x":36.93,"y":2651},{"id":"a3","o":2,"x":33.76,"y":2361},
{"id":"a4","o":0,"x":39.73,"y":2180},{"id":"a4","o":1,"x":36.90,"y":2180},{"id":"a4","o":2,"x":34.10,"y":1781},
{"id":"a5","o":0,"x":38.53,"y":1662},{"id":"a5","o":1,"x":36.34,"y":1662},{"id":"a5","o":2,"x":34.32,"y":1305},
{"id":"a6","o":0,"x":42.81,"y":922},{"id":"a6","o":1,"x":41.75,"y":922},{"id":"a6","o":2,"x":40.71,"y":601}
],
"boxes": [
{"x":41.61,"x2":51.16,"y":3696,"y2":3474},
{"x":41.10,"x2":52.8,"y":3194,"y2":2982},
{"x":40.57,"x2":51.55,"y":2796,"y2":2573},
{"x":40.15,"x2":50.94,"y":2319,"y2":2123},
{"x":38.95,"x2":49.62,"y":1807,"y2":1600},
{"x":43.20,"x2":51.36,"y":1046,"y2":849}
],
"labels": [
{"t":"Temps de mûrissement = 3 h","x":41.83,"y":3583},
{"t":"Temps de mûrissement = 1 h 30 min","x":41.30,"y":3091},
{"t":"Temps de mûrissement = 20 min","x":40.72,"y":2687},
{"t":"Temps de mûrissement = 10 min","x":40.30,"y":2221},
{"t":"Temps de mûrissement = 1 min","x":39.10,"y":1703}
],
"center": [{"t":"Alumine amorphe","x":47.28,"y":947}],
"ends": [{"id":"xa","x":52,"y":0},{"id":"ya","x":22,"y":3800}]
},
"encoding": {
"x": {"field":"x","type":"quantitative",
 "scale":{"domain":[22,52],"nice":false,"zero":false},
 "axis":{"title":"2-Theta - Scale","titleFont":"Liberation Sans","titleFontSize":12,"titleFontWeight":"normal","titleColor":"black","titleX":522,"titleY":32,"titleBaseline":"top",
  "values":[22,22.5,23,23.5,24,24.5,25,25.5,26,26.5,27,27.5,28,28.5,29,29.5,30,30.5,31,31.5,32,32.5,33,33.5,34,34.5,35,35.5,36,36.5,37,37.5,38,38.5,39,39.5,40,40.5,41,41.5,42,42.5,43,43.5,44,44.5,45,45.5,46,46.5,47,47.5,48,48.5,49,49.5,50,50.5,51,51.5,52],
  "labelExpr":"datum.value === 52 ? '5' : (datum.value % 1 === 0 ? datum.label : '')",
  "format":"d","labelFont":"Liberation Sans","labelFontSize":8,"labelFontWeight":"bold","labelColor":"black",
  "labelPadding":11,"labelOverlap":false,"labelFlush":false,"labelBound":false,
  "tickColor":"black","tickWidth":1.3,"tickSize":7,"domainColor":"black","domainWidth":2.5,
  "encode":{"ticks":{"update":{"y2":{"signal":"datum.value % 1 === 0 ? 7 : 4"}}}}}},
"y": {"field":"y","type":"quantitative",
 "scale":{"domain":[0,3800],"nice":false,"zero":true},
 "axis":{"title":"Lin (Counts)","titleFont":"Liberation Sans","titleFontSize":12,"titleFontWeight":"normal","titleColor":"black","titleX":-31,"titleY":375,
  "values":[0,50,100,150,200,250,300,350,400,450,500,550,600,650,700,750,800,850,900,950,1000,1050,1100,1150,1200,1250,1300,1350,1400,1450,1500,1550,1600,1650,1700,1750,1800,1850,1900,1950,2000,2050,2100,2150,2200,2250,2300,2350,2400,2450,2500,2550,2600,2650,2700,2750,2800,2850,2900,2950,3000,3050,3100,3150,3200,3250,3300,3350,3400,3450,3500,3550,3600,3650,3700,3750],
  "labelExpr":"datum.value % 100 === 0 ? datum.label : ''",
  "format":"d","labelFont":"Liberation Sans","labelFontSize":8,"labelFontWeight":"bold","labelColor":"black",
  "labelPadding":1,"labelOverlap":false,"labelFlush":false,"labelBound":false,
  "tickColor":"black","tickWidth":1.3,"tickSize":6,"domainColor":"black","domainWidth":2,
  "encode":{"ticks":{"update":{"x2":{"signal":"datum.value % 100 === 0 ? -6 : -3"}}}}}}
},
"layer": [
{"data":{"name":"curves"},"transform":[{"filter":"datum.s !== 'm20'"}],
 "mark":{"type":"line","color":"black","strokeWidth":1.3},
 "encoding":{"detail":{"field":"s","type":"nominal"}}},
{"data":{"name":"curves"},"transform":[{"filter":"datum.s === 'm20'"}],
 "mark":{"type":"line","color":"#7a7a7a","strokeWidth":1.3,"strokeDash":[1.5,1.2]},
 "encoding":{}},
{"data":{"name":"boxes"},
 "mark":{"type":"rect","fill":"white","stroke":"black","strokeWidth":1.8},
 "encoding":{"x2":{"field":"x2"},"y2":{"field":"y2"}}},
{"data":{"name":"labels"},
 "mark":{"type":"text","align":"left","baseline":"middle","font":"Liberation Serif","fontSize":26,"color":"black"},
 "encoding":{"text":{"field":"t"}}},
{"data":{"name":"center"},
 "mark":{"type":"text","align":"center","baseline":"middle","font":"Liberation Serif","fontSize":26,"color":"black"},
 "encoding":{"text":{"field":"t"}}},
{"data":{"name":"arrows"},
 "mark":{"type":"line","color":"black","strokeWidth":2.5},
 "encoding":{"detail":{"field":"id","type":"nominal"},"order":{"field":"o","type":"quantitative"}}},
{"data":{"name":"arrows"},"transform":[{"filter":"datum.id === 'a1' && datum.o === 2"}],
 "mark":{"type":"point","shape":"M0,0L-0.65,2L0.65,2Z","filled":true,"opacity":1,"color":"black","size":225,"angle":227}},
{"data":{"name":"arrows"},"transform":[{"filter":"datum.id === 'a2' && datum.o === 2"}],
 "mark":{"type":"point","shape":"M0,0L-0.65,2L0.65,2Z","filled":true,"opacity":1,"color":"black","size":225,"angle":238}},
{"data":{"name":"arrows"},"transform":[{"filter":"datum.id === 'a3' && datum.o === 2"}],
 "mark":{"type":"point","shape":"M0,0L-0.65,2L0.65,2Z","filled":true,"opacity":1,"color":"black","size":225,"angle":244}},
{"data":{"name":"arrows"},"transform":[{"filter":"datum.id === 'a4' && datum.o === 2"}],
 "mark":{"type":"point","shape":"M0,0L-0.65,2L0.65,2Z","filled":true,"opacity":1,"color":"black","size":225,"angle":232}},
{"data":{"name":"arrows"},"transform":[{"filter":"datum.id === 'a5' && datum.o === 2"}],
 "mark":{"type":"point","shape":"M0,0L-0.65,2L0.65,2Z","filled":true,"opacity":1,"color":"black","size":225,"angle":226}},
{"data":{"name":"arrows"},"transform":[{"filter":"datum.id === 'a6' && datum.o === 2"}],
 "mark":{"type":"point","shape":"M0,0L-0.65,2L0.65,2Z","filled":true,"opacity":1,"color":"black","size":225,"angle":211}},
{"data":{"name":"ends"},"transform":[{"filter":"datum.id === 'xa'"}],
 "mark":{"type":"point","shape":"M0,0L-2.2,-2.2L-2.2,0Z","filled":true,"opacity":1,"color":"black","size":64}},
{"data":{"name":"ends"},"transform":[{"filter":"datum.id === 'ya'"}],
 "mark":{"type":"point","shape":"M0,0L0.8,2.5L0,2.5Z","filled":true,"opacity":1,"color":"black","size":64}}
]
}
